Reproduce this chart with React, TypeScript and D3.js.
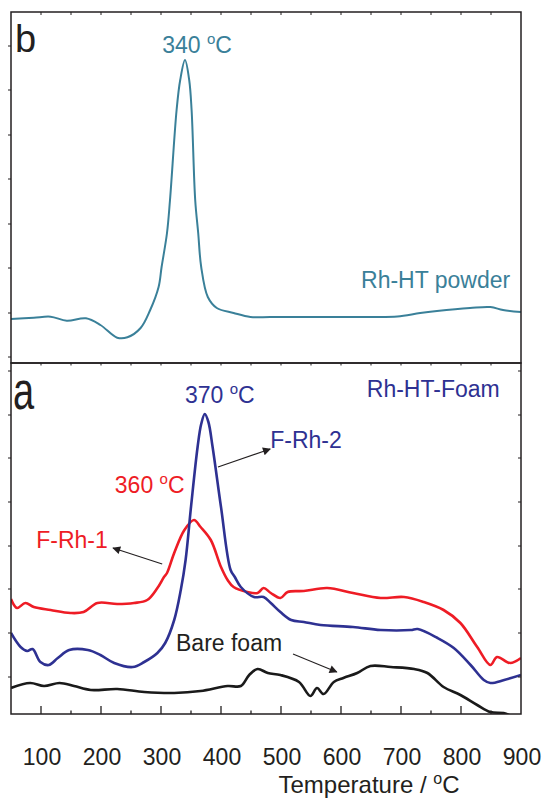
import React from "react";
import * as d3 from "d3";

// ---------- Data (temperature in °C, signal in arbitrary units) ----------
const powderT = [50, 88, 116, 143, 175, 199, 227, 244, 266, 282, 296, 301, 310, 315, 326, 332, 340, 347, 351, 357, 362, 367, 378, 393, 421, 449, 482, 540, 594, 650, 694, 732, 760, 815, 849, 870, 900];
const powderS = [44, 45.3, 46.3, 42.3, 44.7, 38, 25.3, 25.7, 35, 53, 76, 96, 130, 163, 253, 283, 303, 283, 253, 163, 130, 96, 66, 55, 50, 46, 46, 46, 46, 46, 46.5, 50, 52, 55, 56, 53, 51];

const fRh1T = [50, 60, 74, 88, 116, 149, 171, 194, 227, 255, 277, 294, 305, 310, 322, 339, 355, 366, 383, 400, 411, 421, 444, 461, 471, 483, 499, 511, 538, 577, 620, 666, 705, 738, 771, 799, 827, 849, 860, 882, 900];
const fRh1S = [115, 106, 111, 107, 104, 101, 102, 111, 110, 111, 114, 126, 137, 141, 161, 184, 194, 187, 174, 147, 134, 127, 122, 121, 126, 121, 116, 122, 123, 126, 121, 116, 117, 112, 104, 91, 67, 49, 57, 51, 56];

const fRh2T = [50, 66, 77, 86, 99, 113, 128, 147, 178, 199, 222, 253, 272, 294, 307, 322, 333, 341, 350, 361, 367, 373, 379, 386, 400, 416, 423, 433, 455, 471, 483, 499, 517, 538, 566, 620, 666, 716, 728, 761, 788, 816, 838, 849, 872, 900];
const fRh2S = [81, 67, 63, 65, 52, 49, 56, 64, 64, 59, 51, 47, 52, 61, 71, 94, 124, 154, 207, 267, 290, 300, 292, 267, 207, 144, 137, 127, 117, 117, 111, 102, 94, 92, 89, 87, 84, 84, 85, 76, 66, 49, 34, 31, 34, 39];

const bareT = [50, 82, 105, 131, 155, 183, 227, 272, 322, 366, 411, 433, 447, 461, 478, 499, 530, 549, 560, 571, 588, 604, 627, 649, 683, 722, 744, 771, 799, 827, 849, 871, 880];
const bareS = [26, 31, 28, 31, 28, 24, 25, 22, 21, 23, 28, 28, 39, 45, 41, 39, 32, 18, 26, 20, 32, 36, 41, 48, 47, 45, 41, 27, 19, 9, 2, 1, -1];

const xTickLabels = [100, 200, 300, 400, 500, 600, 700, 800, 900];
const xMinorTicks = [150, 250, 350, 450, 550, 650, 750, 850];
const yTicksB = [6, 50, 95, 139, 184, 228, 273, 317];
const yTicksA = [37, 81, 125, 168, 212, 256, 299, 343];

// ---------- Layout ----------
const W = 542, H = 801;
const L = 11, R = 521;
const bTop = 12, mid = 363, aBot = 714;

const FONT = "'Liberation Sans', Arial, Helvetica, sans-serif";
const AX = "#231f20";
const TEAL = "#3a8099";
const RED = "#ee1c25";
const BLUE = "#2e3192";
const BLACK = "#1a1a1a";

export default function App() {
  const x = d3.scaleLinear().domain([50, 900]).range([L, R]);
  const yB = d3.scaleLinear().domain([0, 351]).range([mid, bTop]);
  const yA = d3.scaleLinear().domain([0, 351]).range([aBot, mid]);

  const mk = (ys: d3.ScaleLinear<number, number>) =>
    d3.line<[number, number]>().x(d => x(d[0])).y(d => ys(d[1])).curve(d3.curveCatmullRom.alpha(0.5));

  const zip = (a: number[], b: number[]) => a.map((t, i) => [t, b[i]] as [number, number]);

  const lineB = mk(yB);
  const lineA = mk(yA);

  const arrows = [
    { from: [395, 247], to: [482, 265] },
    { from: [302, 150], to: [220, 166] },
    { from: [520, 60], to: [593, 42] },
  ];

  const deg = (num: string, color: string, tx: number, ty: number) => (
    <text x={tx} y={ty} fill={color} fontSize={23} fontFamily={FONT}>
      {num + " "}
      <tspan fontSize={15} dy={-9}>o</tspan>
      <tspan dy={9}>C</tspan>
    </text>
  );

  return (
    <svg width={W} height={H} style={{ position: "absolute", left: 0, top: 0, background: "#fff" }}>
      <defs>
        <clipPath id="clipB"><rect x={L} y={bTop} width={R - L} height={mid - bTop} /></clipPath>
        <clipPath id="clipA"><rect x={L} y={mid} width={R - L} height={aBot - mid} /></clipPath>
        <marker id="arr" viewBox="0 0 10 10" refX={9} refY={5} markerWidth={11} markerHeight={8} orient="auto" markerUnits="userSpaceOnUse">
          <path d="M0,0 L10,5 L0,10 Z" fill={AX} />
        </marker>
      </defs>

      {/* curves */}
      <g clipPath="url(#clipB)">
        <path d={lineB(zip(powderT, powderS)) || ""} fill="none" stroke={TEAL} strokeWidth={2} />
      </g>
      <g clipPath="url(#clipA)">
        <path d={lineA(zip(bareT, bareS)) || ""} fill="none" stroke={BLACK} strokeWidth={2.6} />
        <path d={lineA(zip(fRh1T, fRh1S)) || ""} fill="none" stroke={RED} strokeWidth={2.6} />
        <path d={lineA(zip(fRh2T, fRh2S)) || ""} fill="none" stroke={BLUE} strokeWidth={2.6} />
      </g>

      {/* frames */}
      <rect x={L} y={bTop} width={R - L} height={mid - bTop} fill="none" stroke={AX} strokeWidth={1.5} />
      <rect x={L} y={mid} width={R - L} height={aBot - mid} fill="none" stroke={AX} strokeWidth={1.5} />

      {/* top ticks of panel b and shared border */}
      {[...xTickLabels.slice(0, -1), ...xMinorTicks].map(t => (
        <g key={"tb" + t}>
          <line x1={x(t)} x2={x(t)} y1={bTop} y2={bTop + 3} stroke={AX} strokeWidth={1} />
          <line x1={x(t)} x2={x(t)} y1={mid} y2={mid + 2.5} stroke={AX} strokeWidth={1} />
        </g>
      ))}

      {/* bottom axis ticks */}
      {xTickLabels.slice(0, -1).map(t => (
        <line key={"M" + t} x1={x(t)} x2={x(t)} y1={aBot} y2={aBot - 8} stroke={AX} strokeWidth={1.3} />
      ))}
      {xMinorTicks.map(t => (
        <line key={"m" + t} x1={x(t)} x2={x(t)} y1={aBot} y2={aBot - 3.5} stroke={AX} strokeWidth={1.3} />
      ))}
      {xTickLabels.map(t => (
        <text key={"l" + t} x={x(t) + 1} y={765} textAnchor="middle" fontSize={23} fontFamily={FONT} fill={AX}>{t}</text>
      ))}

      {/* y ticks */}
      {yTicksB.map(v => (
        <line key={"yb" + v} x1={L - 3} x2={L} y1={yB(v)} y2={yB(v)} stroke={AX} strokeWidth={1} />
      ))}
      {yTicksA.map(v => (
        <g key={"ya" + v}>
          <line x1={L - 3} x2={L} y1={yA(v)} y2={yA(v)} stroke={AX} strokeWidth={1} />
          <line x1={R - 3} x2={R} y1={yA(v)} y2={yA(v)} stroke={AX} strokeWidth={1} />
        </g>
      ))}

      {/* axis title */}
      <text x={369} y={793} textAnchor="middle" fontSize={24} fontFamily={FONT} fill={AX}>
        {"Temperature / "}
        <tspan fontSize={16} dy={-9}>o</tspan>
        <tspan dy={9}>C</tspan>
      </text>

      {/* panel letters */}
      <text x={15} y={52} fontSize={38} fontFamily={FONT} fill={AX}>b</text>
      <text x={0} y={0} fontSize={38} fontFamily={FONT} fill={AX} transform={`translate(13,409) scale(1,1.4)`}>a</text>

      {/* annotations */}
      {deg("340", TEAL, x(302), yB(310))}
      <text x={x(882)} y={yB(75)} textAnchor="end" fontSize={23} fontFamily={FONT} fill={TEAL}>Rh-HT powder</text>
      <text x={x(643)} y={yA(317)} fontSize={23} fontFamily={FONT} fill={BLUE}>Rh-HT-Foam</text>
      {deg("370", BLUE, x(340), yA(311))}
      <text x={x(482)} y={yA(266)} fontSize={23} fontFamily={FONT} fill={BLUE}>F-Rh-2</text>
      {deg("360", RED, x(223), yA(221))}
      <text x={x(92)} y={yA(166)} fontSize={23} fontFamily={FONT} fill={RED}>F-Rh-1</text>
      <text x={x(325)} y={yA(63)} fontSize={23} fontFamily={FONT} fill={AX}>Bare foam</text>

      {arrows.map((a, i) => (
        <line key={"ar" + i} x1={x(a.from[0])} y1={yA(a.from[1])} x2={x(a.to[0])} y2={yA(a.to[1])}
          stroke={AX} strokeWidth={1.1} markerEnd="url(#arr)" />
      ))}
    </svg>
  );
}
